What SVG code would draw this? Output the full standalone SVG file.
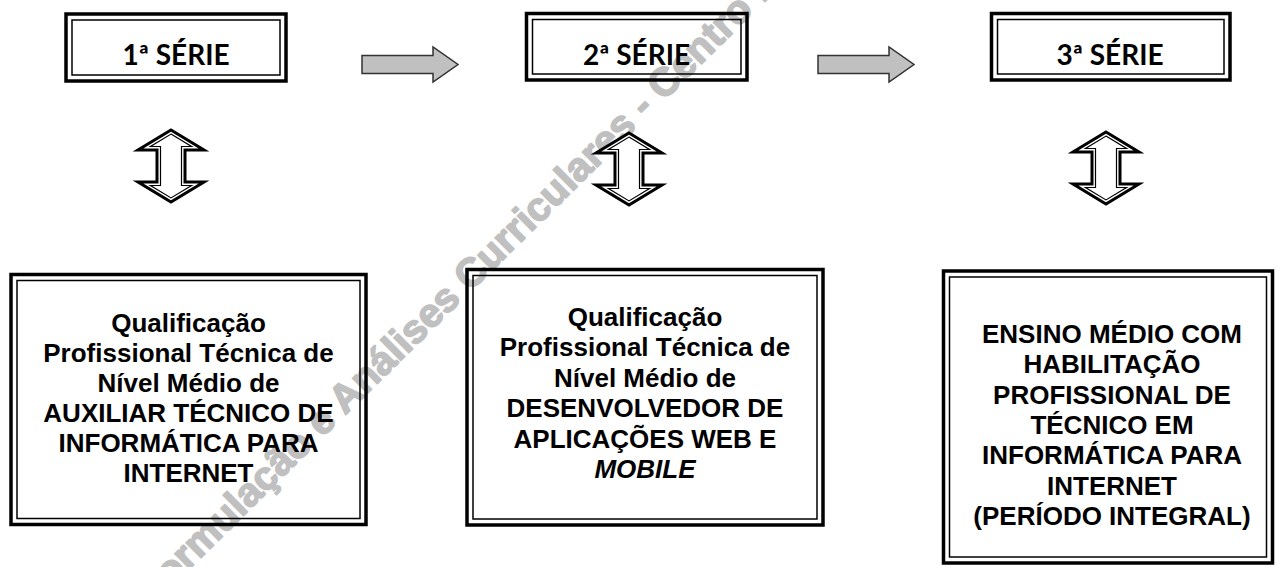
<svg xmlns="http://www.w3.org/2000/svg" xmlns:xlink="http://www.w3.org/1999/xlink" width="1278" height="567" viewBox="0 0 1278 567">
<style>
.wm{font-family:"Liberation Sans",Arial,sans-serif;font-weight:700;font-size:40px;fill:#c0c0c0;stroke:#c0c0c0;stroke-width:1.6;stroke-linejoin:round}
.t1{font-family:Lato,"Open Sans",sans-serif;font-weight:700;font-size:28px;text-anchor:middle;fill:#000}
.t2{font-family:"Liberation Sans",Arial,sans-serif;font-weight:700;font-size:26px;text-anchor:middle;fill:#000}
.o{fill:none;stroke:#000;stroke-width:3.5}
.i{fill:none;stroke:#000;stroke-width:1.5}
.ga{fill:#c0c0c0;stroke:#333;stroke-width:1.5;stroke-linejoin:miter}
.da{fill:#fff;stroke:#000;stroke-width:3;stroke-linejoin:miter}
.di{fill:none;stroke:#000;stroke-width:1.2}
</style>
<defs>
<g id="dbl">
<polygon class="da" points="0,0 33,20 14,20 14,52 33,52 0,72 -33,52 -14,52 -14,20 -33,20"/>
<polygon class="di" points="0,4.1 20.5,16.5 10.5,16.5 10.5,55.5 20.5,55.5 0,67.9 -20.5,55.5 -10.5,55.5 -10.5,16.5 -20.5,16.5"/>
</g>
<polygon id="rarrow" class="ga" points="0,-9 71,-9 71,-17.5 96,0 71,17.5 71,9 0,9"/>
</defs>
<rect width="1278" height="567" fill="#fff"/>
<text class="wm" transform="translate(153,605) rotate(-44.6)">Formulação e Análises Curriculares - Centro P</text>
<g id="connectors">
<use xlink:href="#rarrow" href="#rarrow" transform="translate(362,64.5)"/>
<use xlink:href="#rarrow" href="#rarrow" transform="translate(818,64.5)"/>
<use xlink:href="#dbl" href="#dbl" transform="translate(171,130)"/>
<use xlink:href="#dbl" href="#dbl" transform="translate(629,133)"/>
<use xlink:href="#dbl" href="#dbl" transform="translate(1106,132)"/>
</g>
<g id="serie1">
<rect class="o" x="66" y="14" width="220" height="67"/>
<rect class="i" x="72" y="20" width="208" height="55"/>
<text class="t1" x="176" y="65">1ª SÉRIE</text>
</g>
<g id="serie2">
<rect class="o" x="526.5" y="13.5" width="220.5" height="66.5"/>
<rect class="i" x="532.5" y="19.5" width="208.5" height="54.5"/>
<text class="t1" x="636.5" y="65">2ª SÉRIE</text>
</g>
<g id="serie3">
<rect class="o" x="991.5" y="13.5" width="238.5" height="66.5"/>
<rect class="i" x="997.5" y="19.5" width="226.5" height="54.5"/>
<text class="t1" x="1110" y="65">3ª SÉRIE</text>
</g>
<g id="qual1">
<rect class="o" x="11" y="274.5" width="355" height="250"/>
<rect class="i" x="17" y="280.5" width="343" height="238"/>
<text class="t2" x="188.5" y="332">Qualificação</text>
<text class="t2" x="188.5" y="362">Profissional Técnica de</text>
<text class="t2" x="188.5" y="392">Nível Médio de</text>
<text class="t2" x="188.5" y="422">AUXILIAR TÉCNICO DE</text>
<text class="t2" x="188.5" y="452">INFORMÁTICA PARA</text>
<text class="t2" x="188.5" y="482">INTERNET</text>
</g>
<g id="qual2">
<rect class="o" x="467" y="269.5" width="356" height="255.5"/>
<rect class="i" x="473" y="275.5" width="344" height="243.5"/>
<text class="t2" x="645" y="326">Qualificação</text>
<text class="t2" x="645" y="356.4">Profissional Técnica de</text>
<text class="t2" x="645" y="386.8">Nível Médio de</text>
<text class="t2" x="645" y="417.2">DESENVOLVEDOR DE</text>
<text class="t2" x="645" y="447.6">APLICAÇÕES WEB E</text>
<text class="t2" x="645" y="478" font-style="italic">MOBILE</text>
</g>
<g id="habil3">
<rect class="o" x="943.5" y="271" width="329" height="292"/>
<rect class="i" x="949.5" y="277" width="317" height="280"/>
<text class="t2" x="1112" y="343">ENSINO MÉDIO COM</text>
<text class="t2" x="1112" y="373.3">HABILITAÇÃO</text>
<text class="t2" x="1112" y="403.6">PROFISSIONAL DE</text>
<text class="t2" x="1112" y="433.9">TÉCNICO EM</text>
<text class="t2" x="1112" y="464.2">INFORMÁTICA PARA</text>
<text class="t2" x="1112" y="494.5">INTERNET</text>
<text class="t2" x="1112" y="524.8">(PERÍODO INTEGRAL)</text>
</g>
</svg>
